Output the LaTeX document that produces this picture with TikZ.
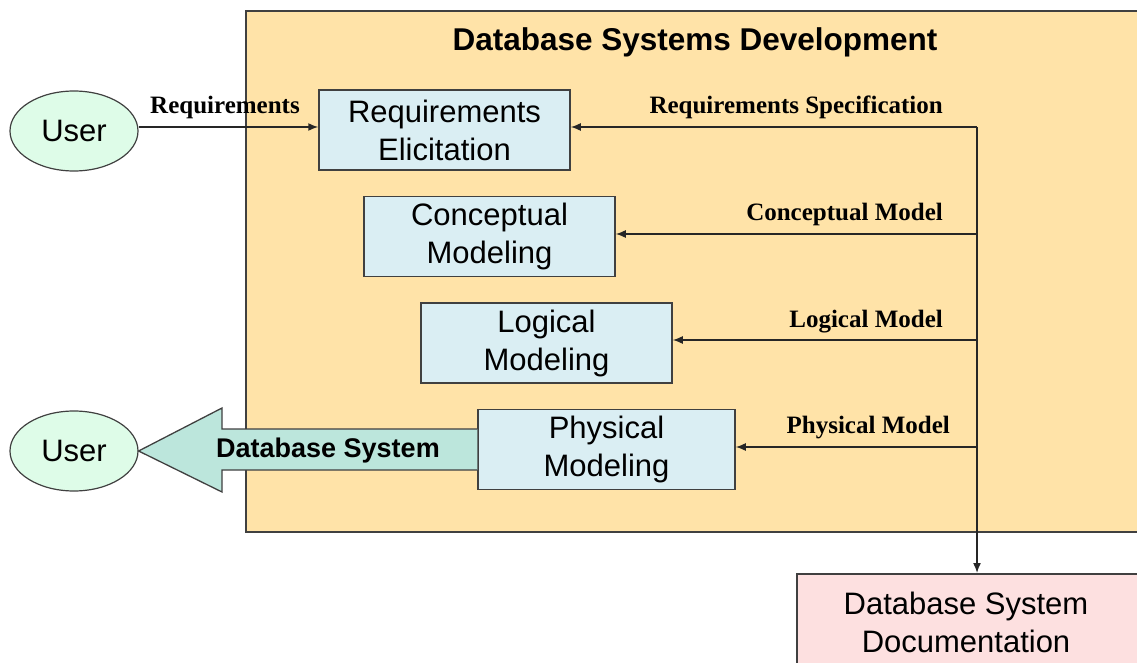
\documentclass[tikz,border=0pt]{standalone}
\usepackage{fontspec}
\setmainfont{Liberation Serif}
\setsansfont{Liberation Sans}
\usetikzlibrary{shapes.geometric,arrows.meta,calc}
\definecolor{devfill}{RGB}{255,227,168}
\definecolor{stepfill}{RGB}{218,238,243}
\definecolor{userfill}{RGB}{222,252,232}
\definecolor{docfill}{RGB}{253,224,224}
\definecolor{outfill}{RGB}{188,230,220}
\definecolor{edge}{RGB}{64,64,64}
\begin{document}
\begin{tikzpicture}[x=1pt,y=-1pt,
  stepbox/.style={draw=edge,line width=1.5pt,fill=stepfill,minimum width=251pt,minimum height=80pt,
    font=\sffamily\fontsize{31}{38}\selectfont,align=center,inner sep=0pt},
  userell/.style={ellipse,draw=edge,line width=1.2pt,fill=userfill,minimum width=128pt,minimum height=80pt,
    font=\sffamily\fontsize{31}{38}\selectfont,inner sep=0pt},
  flow/.style={draw=black!85,line width=1.5pt,-{Latex[length=10pt,width=8pt]}},
  flowlabel/.style={font=\rmfamily\bfseries\fontsize{25}{28}\selectfont,inner sep=0pt}]
\useasboundingbox (0,0) rectangle (1137,663);
\clip (0,0) rectangle (1137,663);

% development frame
\node[draw=edge,line width=2pt,fill=devfill,anchor=north west,minimum width=920pt,minimum height=521pt,inner sep=0pt]
  (dev) at (245,10) {};
\node[font=\sffamily\bfseries\fontsize{31.5}{36}\selectfont,inner sep=0pt] (title) at (695,42) {Database Systems Development};

% documentation output
\node[draw=edge,line width=1.5pt,fill=docfill,anchor=north west,minimum width=360pt,minimum height=100pt,inner sep=0pt]
  (docbox) at (796,573) {};
\node[font=\sffamily\fontsize{31}{38}\selectfont,align=center,inner sep=0pt] (doc) at (966,622)
  {Database System\\Documentation};

% steps
\node[stepbox] (req)  at (444.5,130) {Requirements\\Elicitation};
\node[stepbox] (con)  at (489.5,236.5) {Conceptual\\Modeling};
\node[stepbox] (log)  at (546.5,343) {Logical\\Modeling};
\node[stepbox,minimum width=257pt] (phy)  at (606.5,449.5) {Physical\\Modeling};

% users
\node[userell] (u1) at (74,131) {User};
\node[userell] (u2) at (74,451) {User};

% delivered system
\draw[draw=edge,line width=1.3pt,fill=outfill]
  (phy.west |- 0,429) -- (222,429) -- (222,408) -- (u2.east) -- (222,492) -- (222,470) -- (phy.west |- 0,470);
\node[font=\sffamily\bfseries\fontsize{27}{30}\selectfont,inner sep=0pt] (dbs) at (328,451) {Database System};

% requirements input
\draw[flow] (u1.east |- 0,127) -- (req.west |- 0,127);
\node[flowlabel,anchor=base] (lreq) at (225,114) {Requirements};

% model outputs
\coordinate (top) at (977,127);
\coordinate (jc) at (977,234);
\coordinate (jl) at (977,340);
\coordinate (jp) at (977,447);
\draw[flow] (top) -- (req.east |- top);
\draw[flow] (jc) -- (con.east |- jc);
\draw[flow] (jl) -- (log.east |- jl);
\draw[flow] (jp) -- (phy.east |- jp);
\draw[flow] (top) -- (top |- docbox.north);

\node[flowlabel,anchor=base east] (lspec) at (943,114) {Requirements Specification};
\node[flowlabel,anchor=base east] (lcon) at (943,220) {Conceptual Model};
\node[flowlabel,anchor=base east] (llog) at (943,327) {Logical Model};
\node[flowlabel,anchor=base east] (lphy) at (950,433) {Physical Model};
\end{tikzpicture}
\end{document}
